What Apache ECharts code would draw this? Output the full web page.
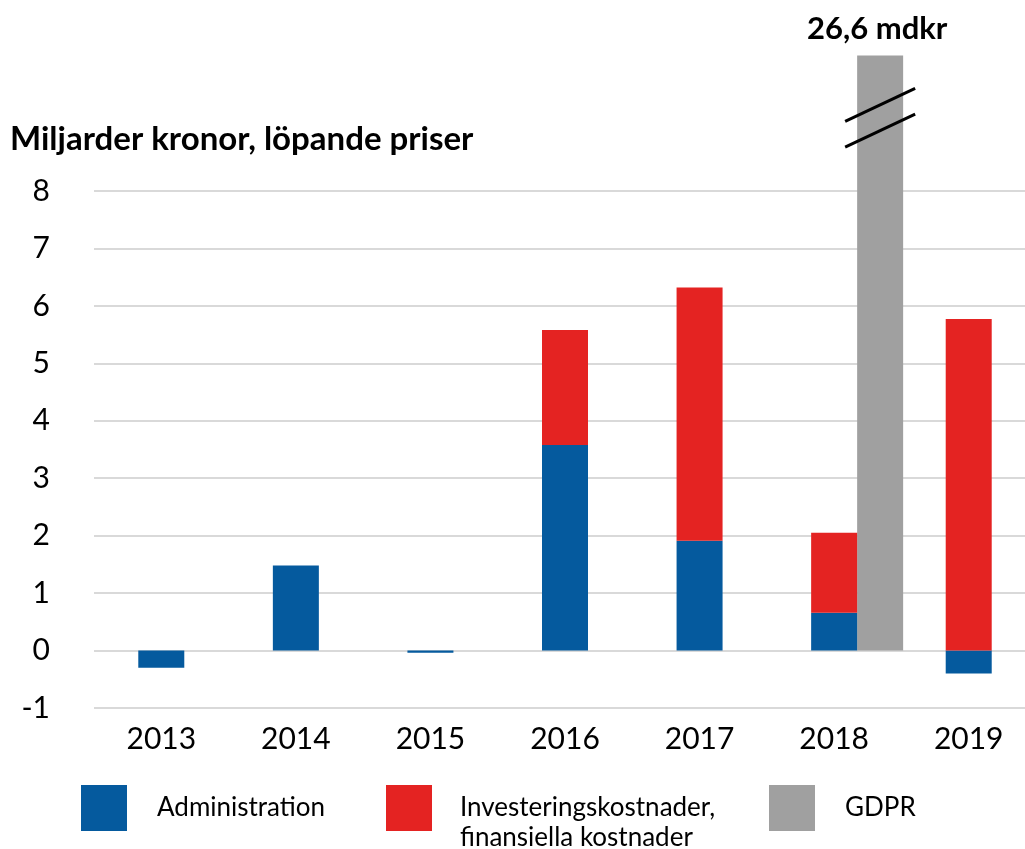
<!DOCTYPE html>
<html>
<head>
    <meta charset="utf-8">
    <title>ECharts</title>
    <script src="https://cdn.jsdelivr.net/npm/echarts@6/dist/echarts.min.js"></script>
</head>
<body style="margin:0">
    <div id="chart" style="width: 1025px;height:849px;"></div>
    <script type="text/javascript">
        // data (miljarder kronor)
        var years = ['2013', '2014', '2015', '2016', '2017', '2018', '2019'];
        var administration = [-0.3, 1.48, -0.04, 3.58, 1.91, 0.66, -0.4];
        var investering = [0, 0, 0, 2.0, 4.41, 1.39, 5.77];
        var gdpr = [null, null, null, null, null, 26.6, null];
        var yTicks = [-1, 0, 1, 2, 3, 4, 5, 6, 7, 8];

        var font = 'Lato';
        var barW = 46;
        var gdprShownTop = 10.36;   // where the broken bar is cut off
        var breakMarks = [9.05, 9.5];

        var gdprData = [];
        gdpr.forEach(function (v, i) { if (v != null) gdprData.push([i, v]); });

        var chart = echarts.init(document.getElementById('chart'));
        var option = {
            animation: false,
            title: {
                text: 'Miljarder kronor, löpande priser',
                left: 5, top: 118,
                textStyle: { fontFamily: font, fontWeight: 'bold', fontSize: 33, color: '#000' }
            },
            grid: { left: 94, width: 942, top: 191, bottom: 141, outerBoundsMode: 'none' },
            legend: [
                { data: ['Administration'], left: 76, top: 780 },
                { data: ['Investeringskostnader,\nfinansiella kostnader'], left: 381, top: 758,
                  formatter: function (name) { return '\n' + name; } },
                { data: ['GDPR'], left: 764, top: 780 }
            ].map(function (l, k) {
                l.icon = 'rect';
                l.itemWidth = 46;
                l.itemHeight = 46;
                l.selectedMode = false;
                l.textStyle = {
                    fontFamily: font, fontSize: 26, color: '#000', lineHeight: 30,
                    padding: [0, 0, 0, k == 1 ? 23 : 25]
                };
                return l;
            }),
            xAxis: {
                type: 'category',
                data: years,
                axisLine: { show: false },
                axisTick: { show: false },
                axisLabel: { fontFamily: font, fontSize: 30, color: '#000', margin: 16 }
            },
            yAxis: {
                type: 'value',
                min: yTicks[0], max: yTicks[yTicks.length - 1], interval: 1,
                axisLabel: { fontFamily: font, fontSize: 30, color: '#000', margin: 44 },
                splitLine: { lineStyle: { color: '#D9D9D9', width: 2 } }
            },
            series: [
                {
                    name: 'Administration', type: 'bar', stack: 'k', barWidth: barW,
                    itemStyle: { color: '#055A9E' },
                    data: administration
                },
                {
                    name: 'Investeringskostnader,\nfinansiella kostnader', type: 'bar', stack: 'k', barWidth: barW,
                    itemStyle: { color: '#E42322' },
                    data: investering
                },
                {
                    name: 'GDPR', type: 'custom',
                    itemStyle: { color: '#A0A0A0' },
                    clip: false,
                    encode: { x: 0, y: 1 },
                    data: gdprData,
                    renderItem: function (params, api) {
                        var i = api.value(0);
                        var base = api.coord([i, 0]);
                        var top = api.coord([i, gdprShownTop]);
                        var x0 = base[0] + barW / 2;
                        var kids = [{
                            type: 'rect',
                            shape: { x: x0, y: top[1], width: barW, height: base[1] - top[1] },
                            style: { fill: api.visual('color') }
                        }];
                        breakMarks.forEach(function (b) {
                            var p = api.coord([i, b]);
                            kids.push({
                                type: 'line',
                                shape: { x1: x0 - 12, y1: p[1] + 16.5, x2: x0 + barW + 12, y2: p[1] - 16.5 },
                                style: { stroke: '#000', lineWidth: 3 }
                            });
                        });
                        kids.push({
                            type: 'text',
                            style: {
                                text: String(api.value(1)).replace('.', ',') + ' mdkr',
                                x: x0 + barW / 2 - 3, y: top[1] - 26,
                                align: 'center', verticalAlign: 'middle',
                                fontFamily: font, fontWeight: 'bold', fontSize: 31, fill: '#000'
                            }
                        });
                        return { type: 'group', children: kids };
                    }
                }
            ]
        };
        chart.setOption(option);
    </script>
</body>
</html>
